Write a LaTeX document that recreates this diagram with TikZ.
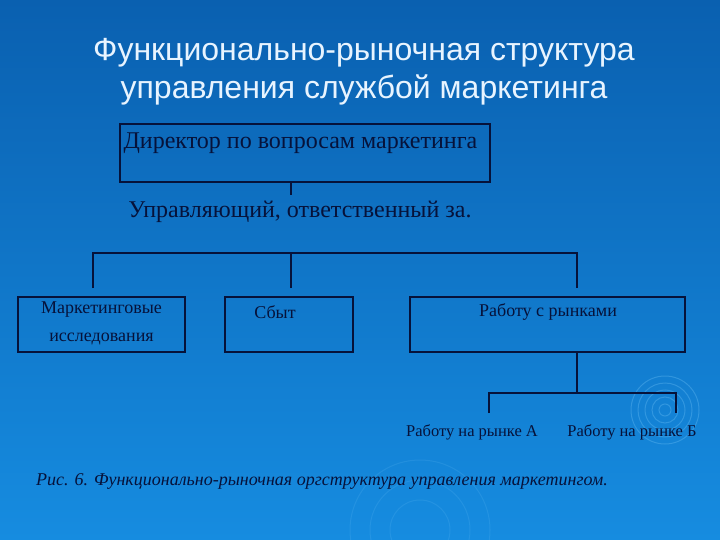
\documentclass[tikz,border=0pt]{standalone}
\usepackage{fontspec}
\setmainfont{Liberation Serif}
\newfontfamily\titlefont{Liberation Sans}
\usetikzlibrary{positioning}
\definecolor{slidetop}{RGB}{10,96,176}
\definecolor{slidebottom}{RGB}{22,140,224}
\definecolor{inkblue}{RGB}{6,18,58}
\definecolor{titlewhite}{RGB}{232,244,255}
\definecolor{ripple}{RGB}{120,200,250}

\tikzset{
  unitbox/.style={draw=inkblue, line width=1.3pt, minimum height=55pt, inner sep=0pt},
  unittext/.style={text=inkblue, font=\fontsize{18}{28}\selectfont, align=center, inner sep=0pt},
  link/.style={draw=inkblue, line width=1.3pt},
}

\begin{document}
\begin{tikzpicture}[x=1pt, y=-1pt]
  % Slide background
  \shade[top color=slidetop, bottom color=slidebottom] (0,0) rectangle (720,540);
  \useasboundingbox (0,0) rectangle (720,540);

  % Ripples
  \foreach \r in {6,13,20,27,34}
    \draw[ripple, opacity=0.3, line width=1pt] (665,410) circle (\r);
  \foreach \r in {30,50,70}
    \draw[ripple, opacity=0.15, line width=1pt] (420,530) circle (\r);

  % Title
  \node[text=titlewhite, font=\titlefont\fontsize{32}{38}\selectfont, align=center]
    (title) at (364,72) {Функционально-рыночная структура\\управления службой маркетинга};

  % Director
  \node[unitbox, minimum width=370pt, minimum height=58pt] (dir) at (305,153) {};
  \node[unittext, font=\fontsize{24}{28}\selectfont, anchor=west]
    (dirtext) at (dir.west |- 0,143) {\hspace{4pt}Директор по вопросам маркетинга};
  \coordinate (stem) at (291,195);
  \draw[link] (dir.south -| stem) -- (stem);
  \node[unittext, font=\fontsize{24}{28}\selectfont] (manager) at (300,212)
    {Управляющий, ответственный за.};

  % Functions
  \node[unitbox, minimum width=167pt] (research) at (101.5,324.5) {};
  \node[unittext] (researchtext) at ([yshift=1pt]research.center) {Маркетинговые\\исследования};
  \node[unitbox, minimum width=128pt] (sales) at (289,324.5) {};
  \node[unittext] (salestext) at (275,312) {Сбыт};
  \node[unitbox, minimum width=275pt] (markets) at (547.5,324.5) {};
  \node[unittext] (marketstext) at (548,312) {Работу с рынками};

  \coordinate (busL) at (93,253);
  \coordinate (busM) at (291,253);
  \coordinate (busR) at (577,253);
  \coordinate (dropL) at (93,288);
  \coordinate (dropR) at (577,288);
  \draw[link] (dropL) |- (busR) -- (dropR);
  \draw[link] (busM) -- (busM |- dropL);

  % Markets
  \coordinate (forkL) at (489,393);
  \coordinate (forkR) at (676,393);
  \coordinate (tipL) at (489,413);
  \coordinate (tipR) at (676,413);
  \draw[link] (markets.south -| busR) -- (busR |- forkL);
  \draw[link] (tipL) -- (forkL) -- (forkR) -- (tipR);
  \node[unittext, font=\fontsize{16.5}{18}\selectfont] (marketA) at (472,432) {Работу на рынке А};
  \node[unittext, font=\fontsize{16.5}{18}\selectfont] (marketB) at (632,432) {Работу на рынке Б};

  % Caption
  \node[unittext, font=\itshape\fontsize{18}{20}\selectfont] (caption) at (322,481)
    {Рис. 6. Функционально-рыночная оргструктура управления маркетингом.};
\end{tikzpicture}
\end{document}
